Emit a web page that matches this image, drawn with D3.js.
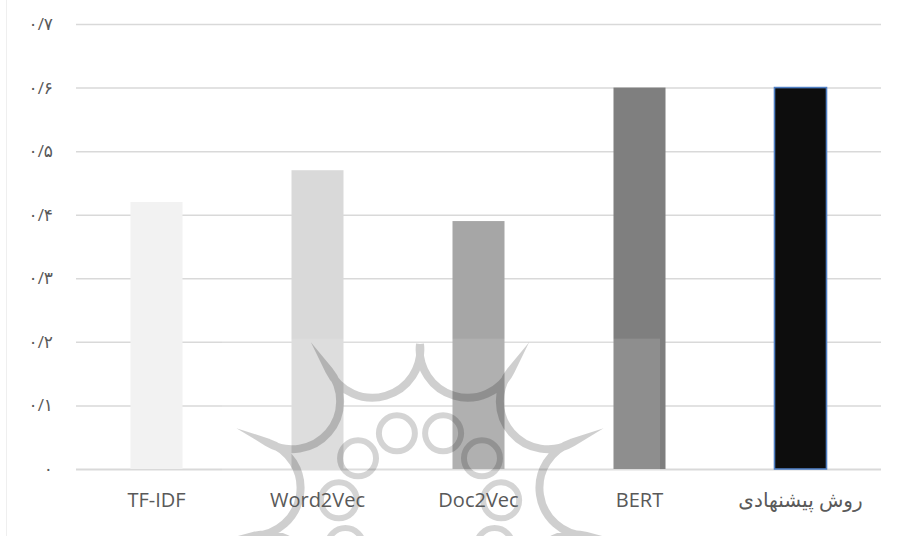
<!DOCTYPE html>
<html>
<head>
<meta charset="utf-8">
<script src="https://cdn.jsdelivr.net/npm/d3@7"></script>
<style>
  html, body { margin: 0; padding: 0; background: #ffffff; }
  svg { display: block; }
</style>
</head>
<body>
<svg id="chart" width="908" height="536"></svg>
<script>
// ---- data ----
const categories = ["TF-IDF", "Word2Vec", "Doc2Vec", "BERT", "روش پیشنهادی"];
const values = [0.42, 0.47, 0.39, 0.60, 0.60];
const yTicks = [0, 0.1, 0.2, 0.3, 0.4, 0.5, 0.6, 0.7];
const yTickLabels = ["۰", "۰/۱", "۰/۲", "۰/۳", "۰/۴", "۰/۵", "۰/۶", "۰/۷"];

// ---- styles ----
const barColors = ["#f2f2f2", "#d9d9d9", "#a6a6a6", "#7f7f7f", "#0d0d0d"];
const textColor = "#595959";
const fontFamily = "'Open Sans', 'DejaVu Sans', sans-serif";

const svg = d3.select("#chart");
const W = 908, H = 536;
const margin = { left: 76, right: 27, top: 24, bottom: 67 };

const x = d3.scaleBand()
  .domain(categories)
  .range([margin.left, W - margin.right])
  .paddingInner(0.677)
  .paddingOuter(0.3385);

const y = d3.scaleLinear()
  .domain([0, 0.7])
  .range([H - margin.bottom, margin.top]);

// faint frame line at left
svg.append("line")
  .attr("x1", 6.5).attr("x2", 6.5).attr("y1", 0).attr("y2", H)
  .attr("stroke", "#efefef").attr("stroke-width", 1);

// gridlines via axis
const yAxis = d3.axisLeft(y)
  .tickValues(yTicks)
  .tickSize(-(W - margin.left - margin.right))
  .tickFormat("");
const gGrid = svg.append("g")
  .attr("transform", `translate(${margin.left},0)`)
  .call(yAxis);
gGrid.select(".domain").remove();
gGrid.selectAll(".tick line")
  .attr("stroke", "#d9d9d9")
  .attr("stroke-width", d => d === 0 ? 2.2 : 1.5);

// y tick labels
svg.append("g").selectAll("text")
  .data(yTicks)
  .join("text")
  .attr("x", 53)
  .attr("y", d => y(d))
  .attr("dy", "0.35em")
  .attr("text-anchor", "end")
  .attr("fill", textColor)
  .attr("font-family", fontFamily)
  .attr("font-size", 17)
  .text((d, i) => yTickLabels[i]);

// bars
svg.append("g").selectAll("rect")
  .data(values)
  .join("rect")
  .attr("x", (d, i) => x(categories[i]))
  .attr("y", d => y(d))
  .attr("width", x.bandwidth())
  .attr("height", d => y(0) - y(d))
  .attr("fill", (d, i) => barColors[i])
  .attr("stroke", (d, i) => i === 4 ? "#4f7fc4" : "none")
  .attr("stroke-width", (d, i) => i === 4 ? 1.6 : 0);

// ---- watermark approximation ----
const wm = svg.append("g").attr("pointer-events", "none");
wm.append("rect")
  .attr("x", 222).attr("y", y(0.205))
  .attr("width", 438).attr("height", H - y(0.205))
  .attr("fill", "#ffffff").attr("opacity", 0.12);

const cx = 420, cy = 512, rOut = 168, nSp = 11;
const step = 2 * Math.PI / nSp;
const tips = d3.range(nSp).map(k => {
  const a = -Math.PI / 2 + k * step;
  return [cx + rOut * Math.cos(a), cy + rOut * Math.sin(a)];
});
let p = `M${tips[0][0]},${tips[0][1]}`;
for (let k = 1; k <= nSp; k++) {
  const t = tips[k % nSp];
  p += ` A48,48 0 0 0 ${t[0]},${t[1]}`;
}
wm.append("path")
  .attr("d", p)
  .attr("fill", "none")
  .attr("stroke", "rgba(0,0,0,0.19)")
  .attr("stroke-width", 8)
  .attr("stroke-linejoin", "miter")
  .attr("stroke-miterlimit", 20);
wm.append("g").selectAll("circle")
  .data(d3.range(nSp))
  .join("circle")
  .attr("cx", k => cx + 82 * Math.cos(-Math.PI / 2 + (k + 0.5) * step))
  .attr("cy", k => cy + 82 * Math.sin(-Math.PI / 2 + (k + 0.5) * step))
  .attr("r", 18)
  .attr("fill", "none")
  .attr("stroke", "rgba(0,0,0,0.17)")
  .attr("stroke-width", 6);

// x labels
svg.append("g").selectAll("text")
  .data(categories)
  .join("text")
  .attr("x", d => x(d) + x.bandwidth() / 2)
  .attr("y", 507)
  .attr("text-anchor", "middle")
  .attr("fill", textColor)
  .attr("font-family", fontFamily)
  .attr("font-size", 20)
  .text(d => d);
</script>
</body>
</html>
